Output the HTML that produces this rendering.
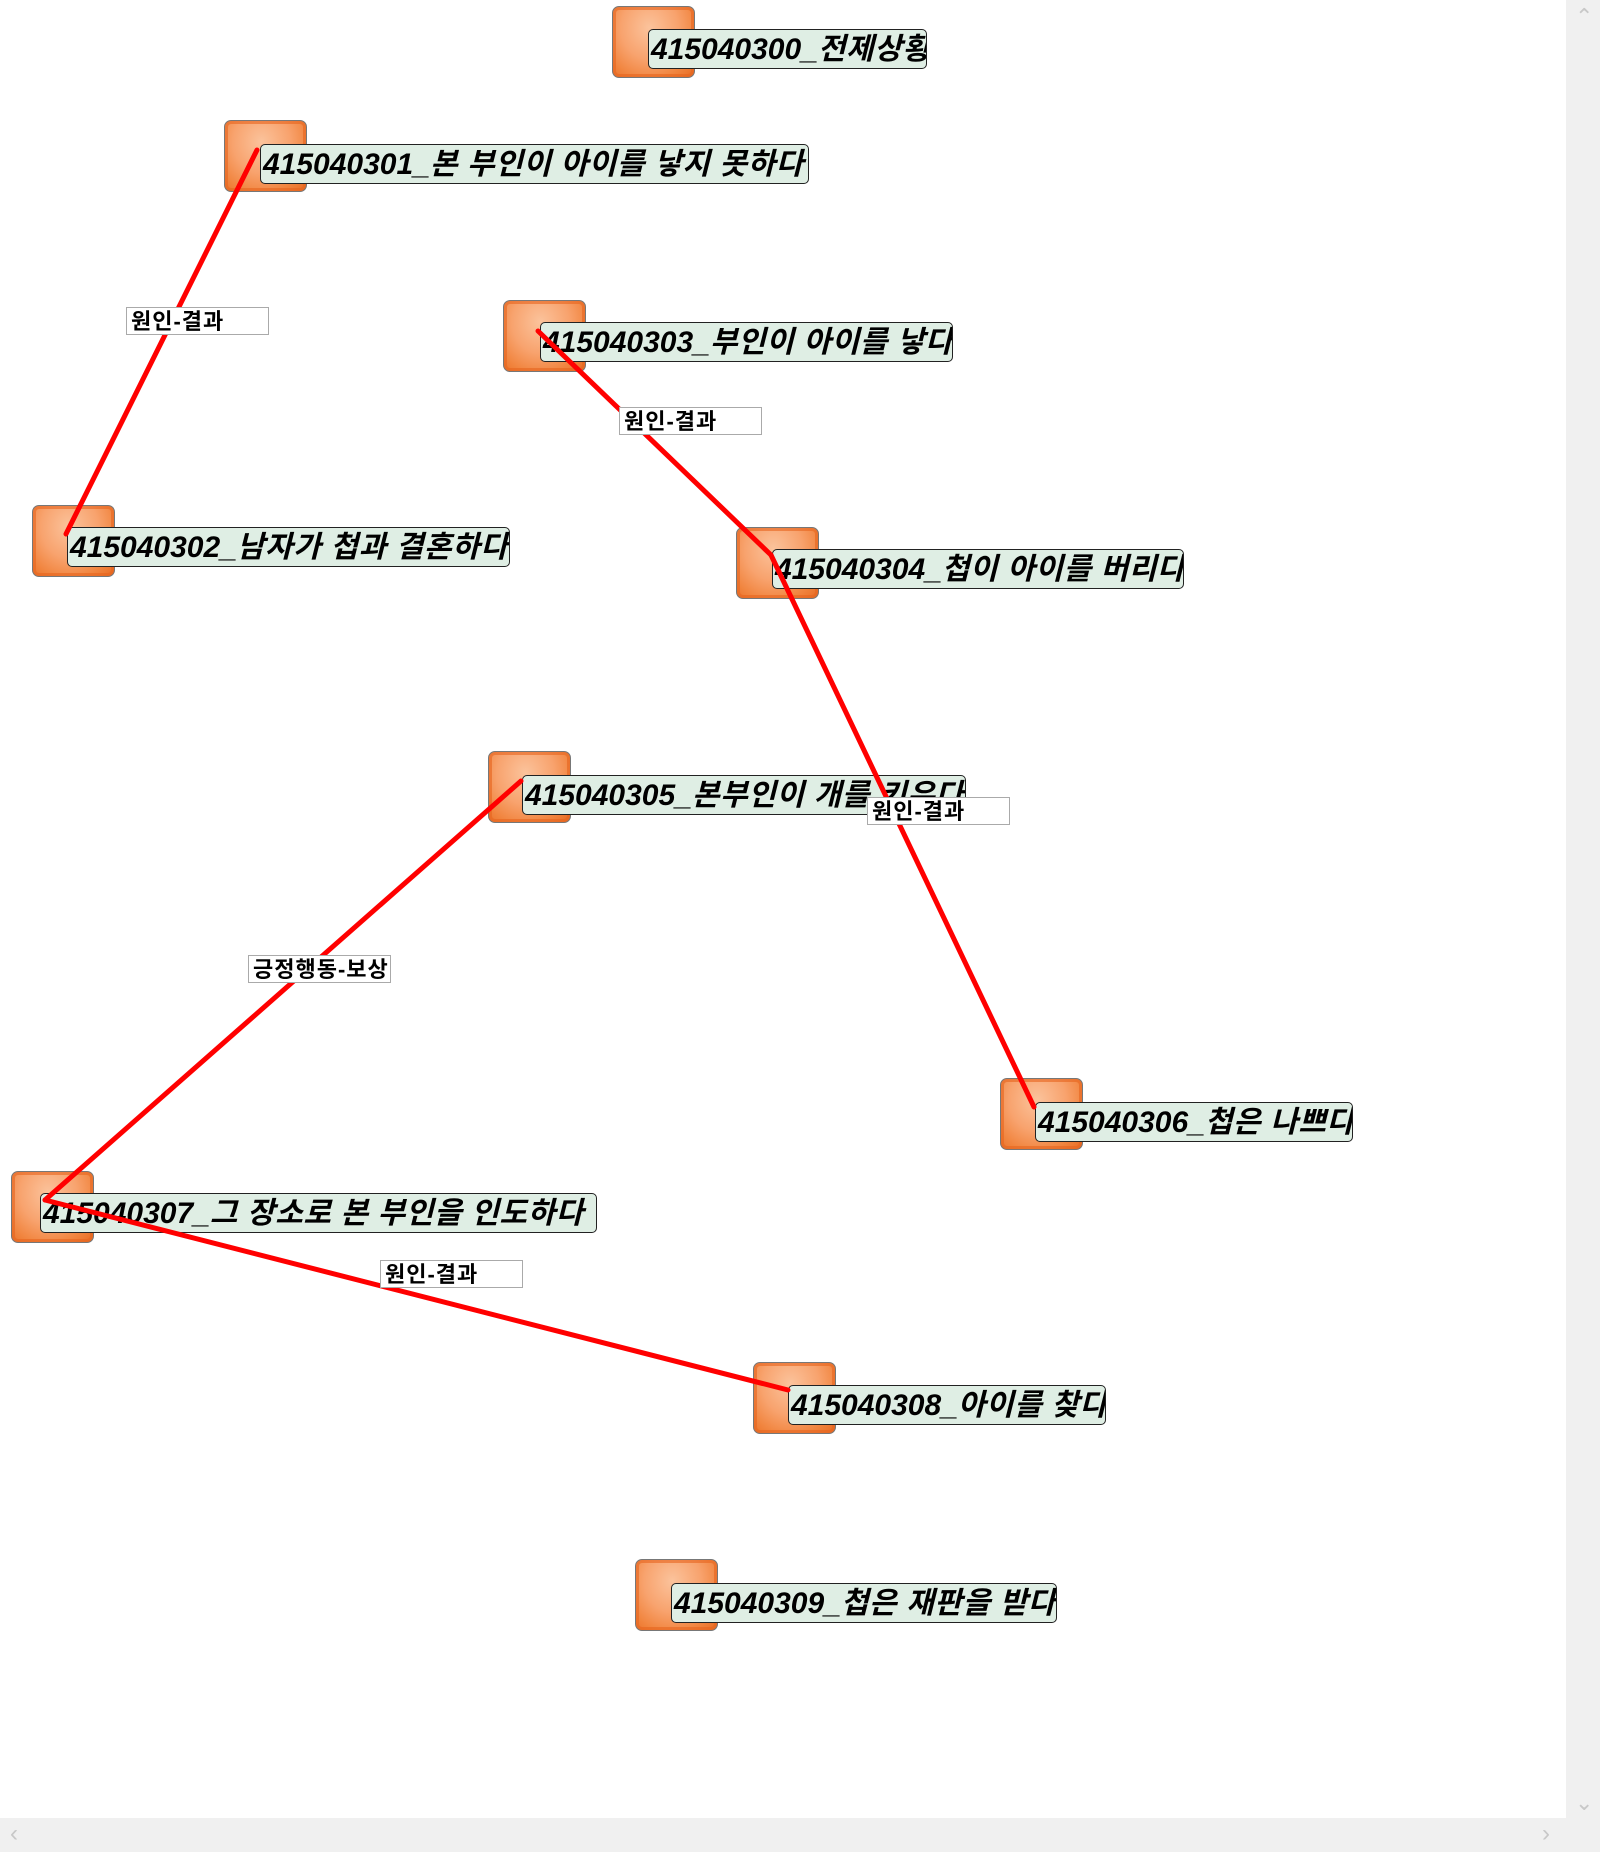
<!DOCTYPE html>
<html><head><meta charset="utf-8"><style>
body{margin:0;width:1600px;height:1852px;background:#fff;position:relative;overflow:hidden;font-family:"Liberation Sans","Noto Sans CJK KR",sans-serif}
.ic{position:absolute;width:83px;height:72px;border:1px solid #777;border-radius:7px;box-sizing:border-box;
background:radial-gradient(ellipse at 45% 30%,#fbc39c 0%,#f8a36e 45%,#f1853f 75%,#e86b22 100%);box-shadow:inset 0 0 0 3px rgba(230,100,30,.6)}
.lb{position:absolute;height:40px;background:#dfeee4;border:1px solid #222;border-radius:5px;box-sizing:border-box;overflow:hidden;white-space:nowrap;
font-weight:bold;font-style:italic;font-size:30px;line-height:40px;padding-left:2px;color:#000}
.lb span{letter-spacing:0.6px}
.el{position:absolute;width:143px;height:28px;background:#fff;border:1px solid #aaa;box-sizing:border-box;overflow:hidden;white-space:nowrap;
font-weight:bold;font-size:22px;line-height:28px;padding-left:4px;letter-spacing:1px}
</style></head><body>
<div class="ic" style="left:612px;top:6px"></div><div class="lb" style="left:648px;top:29px;width:279px">415040300_<span>전제상황</span></div>
<div class="ic" style="left:224px;top:120px"></div><div class="lb" style="left:260px;top:144px;width:549px">415040301_<span>본 부인이 아이를 낳지 못하다</span></div>
<div class="ic" style="left:32px;top:505px"></div><div class="lb" style="left:67px;top:527px;width:443px">415040302_<span>남자가 첩과 결혼하다</span></div>
<div class="ic" style="left:503px;top:300px"></div><div class="lb" style="left:540px;top:322px;width:413px">415040303_<span>부인이 아이를 낳다</span></div>
<div class="ic" style="left:736px;top:527px"></div><div class="lb" style="left:772px;top:549px;width:412px">415040304_<span>첩이 아이를 버리다</span></div>
<div class="ic" style="left:488px;top:751px"></div><div class="lb" style="left:522px;top:775px;width:444px">415040305_<span>본부인이 개를 키우다</span></div>
<div class="ic" style="left:1000px;top:1078px"></div><div class="lb" style="left:1035px;top:1102px;width:318px">415040306_<span>첩은 나쁘다</span></div>
<div class="ic" style="left:11px;top:1171px"></div><div class="lb" style="left:40px;top:1193px;width:557px">415040307_<span>그 장소로 본 부인을 인도하다</span></div>
<div class="ic" style="left:753px;top:1362px"></div><div class="lb" style="left:788px;top:1385px;width:318px">415040308_<span>아이를 찾다</span></div>
<div class="ic" style="left:635px;top:1559px"></div><div class="lb" style="left:671px;top:1583px;width:386px">415040309_<span>첩은 재판을 받다</span></div>
<svg style="position:absolute;left:0;top:0" width="1600" height="1852">
<g stroke="#ff0000" stroke-width="5" fill="none" stroke-linecap="round">
<line x1="257" y1="150" x2="66" y2="534"/>
<line x1="538" y1="331" x2="771" y2="555"/>
<line x1="771" y1="555" x2="1034" y2="1107"/>
<line x1="521" y1="781" x2="45" y2="1200"/>
<line x1="45" y1="1200" x2="788" y2="1390"/>
</g></svg>
<div class="el" style="left:126px;top:307px">원인-결과</div>
<div class="el" style="left:619px;top:407px">원인-결과</div>
<div class="el" style="left:867px;top:797px">원인-결과</div>
<div class="el" style="left:248px;top:955px">긍정행동-보상</div>
<div class="el" style="left:380px;top:1260px">원인-결과</div>
<div style="position:absolute;left:1566px;top:0;width:34px;height:1852px;background:#f0f0f0"></div>
<div style="position:absolute;left:0;top:1818px;width:1600px;height:34px;background:#f0f0f0"></div>
<div style="position:absolute;left:1575px;top:4px;color:#c8c8c8;font-size:22px">&#8963;</div>
<div style="position:absolute;left:1575px;top:1790px;color:#c8c8c8;font-size:22px">&#8964;</div>
<div style="position:absolute;left:10px;top:1820px;color:#c8c8c8;font-size:24px">&#8249;</div>
<div style="position:absolute;left:1542px;top:1820px;color:#c8c8c8;font-size:24px">&#8250;</div>
</body></html>
